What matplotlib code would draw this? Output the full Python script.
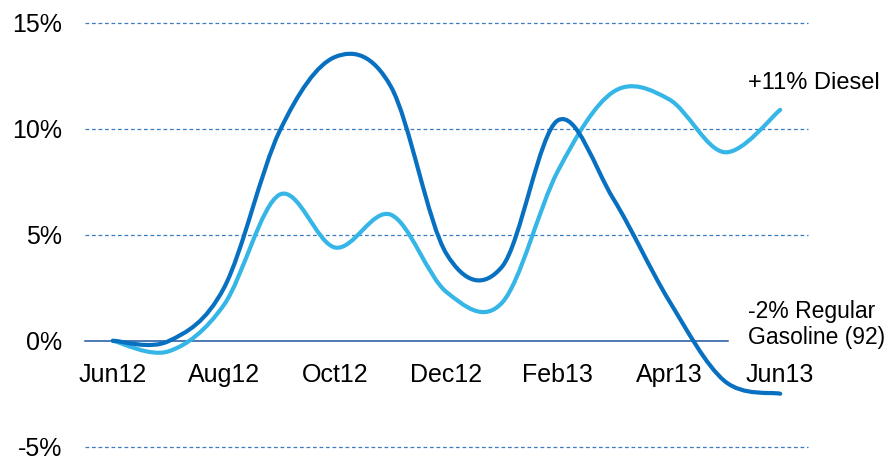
#Fuel price change chart - regular gasoline vs diesel
import numpy as np
from matplotlib import pyplot as plt
from matplotlib.path import Path
from matplotlib.patches import PathPatch

#Data (monthly, % change since Jun12)
months = ['Jun12', 'Jul12', 'Aug12', 'Sep12', 'Oct12', 'Nov12', 'Dec12',
          'Jan13', 'Feb13', 'Mar13', 'Apr13', 'May13', 'Jun13']
gasolineChange = [0.0, -0.02, 2.5, 9.9, 13.4, 12.0, 4.1, 3.5, 10.4, 6.7, 1.9, -1.9, -2.5]
dieselChange = [0.0, -0.5, 1.7, 6.9, 4.4, 5.95, 2.3, 1.8, 8.0, 11.75, 11.4, 8.9, 10.9]
tickMonths = ['Jun12', 'Aug12', 'Oct12', 'Dec12', 'Feb13', 'Apr13', 'Jun13']
gridValues = [-5, 5, 10, 15]
yTicks = [-5, 0, 5, 10, 15]
dieselLabel = '+11% Diesel'
gasolineLabel = '-2% Regular\nGasoline (92)'

#Colours
darkBlue = '#0870c0'
lightBlue = '#35b6e6'
gridBlue = '#3a7cc0'
zeroBlue = '#1c56a0'

plt.rcParams['font.family'] = ['Liberation Sans', 'DejaVu Sans']
plt.rcParams['font.size'] = 18


def smoothPath(xs, ys, t=1.0/6):
    #Excel style smoothed line: cubic bezier through every point
    pts = np.column_stack([xs, ys]).astype(float)
    n = len(pts)
    verts = [pts[0]]
    codes = [Path.MOVETO]
    for i in range(n - 1):
        p0 = pts[max(i - 1, 0)]
        p1 = pts[i]
        p2 = pts[i + 1]
        p3 = pts[min(i + 2, n - 1)]
        c1 = p1 + (p2 - p0) * t
        c2 = p2 - (p3 - p1) * t
        verts += [c1, c2, p2]
        codes += [Path.CURVE4] * 3
    return Path(verts, codes)


x = np.arange(len(months))

fig = plt.figure(figsize=(8.93, 4.61), dpi=100)
ax = fig.add_axes([85/893, 14.3/461, 723/893, 423.7/461])
ax.set_xlim(-0.5, 12.5)
ax.set_ylim(-5, 15)

#Dashed gridlines (not at zero)
for g in gridValues:
    ax.axhline(g, color=gridBlue, linewidth=0.9, linestyle=(0, (3, 2.2)), zorder=1, clip_on=False)

#Zero line is the bottom spine
for s in ['top', 'right', 'left']:
    ax.spines[s].set_visible(False)
ax.spines['bottom'].set_position(('data', 0))
ax.spines['bottom'].set_bounds(-0.5, 11.07)
ax.spines['bottom'].set_color(zeroBlue)
ax.spines['bottom'].set_linewidth(1.1)
ax.spines['bottom'].set_zorder(2)

ax.set_xticks([months.index(m) for m in tickMonths])
ax.set_xticklabels(tickMonths)
ax.set_yticks(yTicks)
ax.set_yticklabels(['%d%%' % v for v in yTicks])
ax.tick_params(axis='both', length=0, colors='black')
ax.tick_params(axis='x', pad=16)
ax.tick_params(axis='y', pad=16.5)

#Lines
lightPatch = PathPatch(smoothPath(x, dieselChange), facecolor='none', edgecolor=lightBlue,
                       linewidth=3.0, capstyle='round', zorder=3, clip_on=False)
darkPatch = PathPatch(smoothPath(x, gasolineChange), facecolor='none', edgecolor=darkBlue,
                      linewidth=3.0, capstyle='round', zorder=4, clip_on=False)
ax.add_patch(lightPatch)
ax.add_patch(darkPatch)

#End labels
ax.annotate(dieselLabel, xy=(x[-1], dieselChange[-1]), xytext=(-32, 27),
            textcoords='offset pixels', ha='left', va='center', fontsize=17)
ax.annotate(gasolineLabel, xy=(x[-1], gasolineChange[-1]), xytext=(-32, 69),
            textcoords='offset pixels', ha='left', va='center', fontsize=16.5,
            linespacing=1.15)

fig.savefig('out.png', dpi=100)
plt.close('all')
